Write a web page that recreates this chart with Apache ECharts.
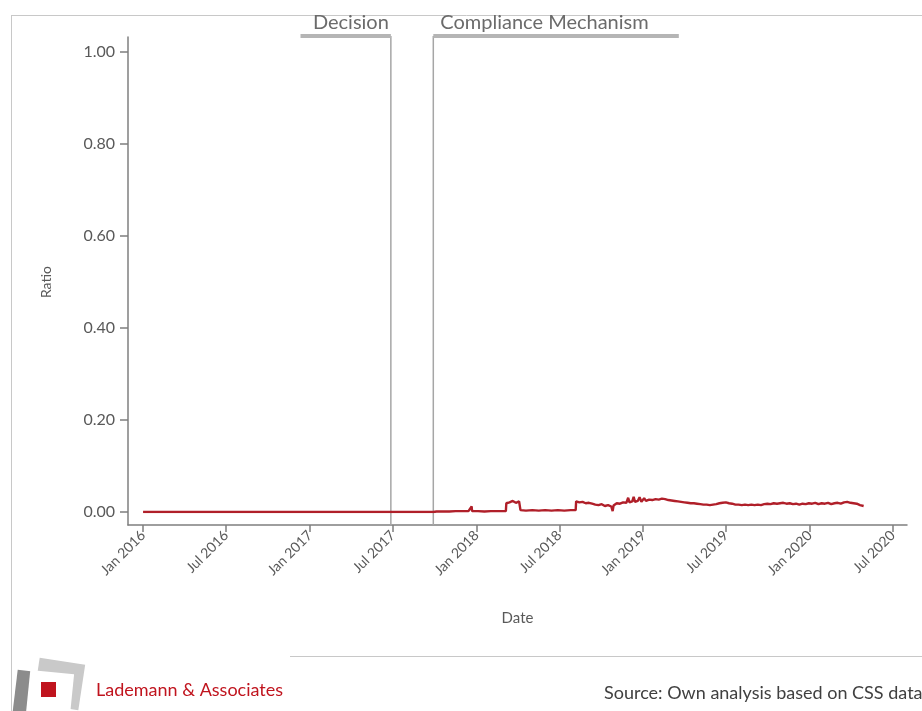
<!DOCTYPE html>
<html>
<head>
<meta charset="utf-8">
<script src="https://cdn.jsdelivr.net/npm/echarts@6/dist/echarts.min.js"></script>
<style>
html,body{margin:0;padding:0;background:#fff;}
#chart{width:922px;height:711px;}
</style>
</head>
<body>
<div id="chart"></div>
<script>
const ratioByDate = [
['2016-01-01',0.000],['2017-09-28',0.000],['2017-10-05',0.001],['2017-10-19',0.001],['2017-11-02',0.001],
['2017-11-16',0.002],['2017-11-30',0.002],['2017-12-14',0.002],['2017-12-21',0.012],['2017-12-22',0.002],
['2018-01-04',0.002],['2018-01-18',0.001],['2018-02-01',0.002],['2018-02-15',0.002],['2018-03-01',0.002],
['2018-03-06',0.002],['2018-03-07',0.019],['2018-03-10',0.022],['2018-03-14',0.021],['2018-03-17',0.024],
['2018-03-21',0.024],['2018-03-24',0.020],['2018-03-28',0.020],['2018-03-31',0.023],['2018-04-04',0.023],
['2018-04-06',0.021],['2018-04-07',0.004],['2018-04-19',0.003],['2018-05-03',0.004],['2018-05-17',0.003],
['2018-05-31',0.004],['2018-06-14',0.003],['2018-06-28',0.004],['2018-07-12',0.003],['2018-07-26',0.004],
['2018-08-06',0.004],['2018-08-07',0.023],['2018-08-10',0.020],['2018-08-14',0.021],['2018-08-17',0.023],
['2018-08-21',0.022],['2018-08-24',0.019],['2018-08-28',0.019],['2018-08-31',0.021],['2018-09-04',0.020],
['2018-09-07',0.017],['2018-09-11',0.018],['2018-09-14',0.016],['2018-09-18',0.016],['2018-09-21',0.018],
['2018-09-25',0.015],['2018-09-28',0.014],['2018-10-02',0.017],['2018-10-05',0.015],['2018-10-09',0.013],
['2018-10-12',0.016],['2018-10-16',0.015],['2018-10-19',0.011],['2018-10-23',0.012],['2018-10-26',0.002],
['2018-10-28',0.014],['2018-10-31',0.017],['2018-11-04',0.019],['2018-11-07',0.016],['2018-11-11',0.018],
['2018-11-14',0.020],['2018-11-18',0.021],['2018-11-21',0.018],['2018-11-25',0.020],['2018-11-29',0.031],
['2018-12-02',0.021],['2018-12-05',0.019],['2018-12-08',0.023],['2018-12-11',0.033],['2018-12-14',0.022],
['2018-12-17',0.020],['2018-12-20',0.024],['2018-12-24',0.032],['2018-12-28',0.022],['2018-12-31',0.025],
['2019-01-03',0.030],['2019-01-07',0.024],['2019-01-10',0.028],['2019-01-14',0.027],['2019-01-17',0.025],
['2019-01-21',0.026],['2019-01-24',0.029],['2019-01-28',0.028],['2019-01-31',0.026],['2019-02-04',0.027],
['2019-02-07',0.029],['2019-02-11',0.029],['2019-02-14',0.027],['2019-02-18',0.028],['2019-02-21',0.026],
['2019-02-25',0.026],['2019-02-28',0.024],['2019-03-04',0.025],['2019-03-07',0.023],['2019-03-11',0.024],
['2019-03-14',0.022],['2019-03-18',0.023],['2019-03-21',0.021],['2019-03-25',0.022],['2019-03-28',0.020],
['2019-04-01',0.021],['2019-04-04',0.019],['2019-04-08',0.020],['2019-04-11',0.018],['2019-04-15',0.019],
['2019-04-18',0.017],['2019-04-22',0.019],['2019-04-25',0.017],['2019-04-29',0.018],['2019-05-02',0.016],
['2019-05-06',0.017],['2019-05-09',0.015],['2019-05-13',0.016],['2019-05-16',0.014],['2019-05-20',0.016],
['2019-05-23',0.014],['2019-05-27',0.015],['2019-05-30',0.017],['2019-06-03',0.016],['2019-06-06',0.018],
['2019-06-10',0.017],['2019-06-13',0.019],['2019-06-17',0.019],['2019-06-20',0.021],['2019-06-24',0.020],
['2019-06-27',0.022],['2019-07-01',0.021],['2019-07-04',0.019],['2019-07-08',0.019],['2019-07-11',0.017],
['2019-07-15',0.018],['2019-07-18',0.016],['2019-07-22',0.016],['2019-07-25',0.014],['2019-07-29',0.016],
['2019-08-01',0.015],['2019-08-05',0.015],['2019-08-08',0.017],['2019-08-12',0.016],['2019-08-15',0.014],
['2019-08-19',0.015],['2019-08-22',0.017],['2019-08-26',0.016],['2019-08-29',0.014],['2019-09-02',0.015],
['2019-09-05',0.017],['2019-09-09',0.016],['2019-09-12',0.014],['2019-09-16',0.015],['2019-09-19',0.017],
['2019-09-23',0.017],['2019-09-26',0.015],['2019-09-30',0.018],['2019-10-03',0.016],['2019-10-07',0.017],
['2019-10-10',0.019],['2019-10-14',0.019],['2019-10-17',0.017],['2019-10-21',0.018],['2019-10-24',0.020],
['2019-10-28',0.019],['2019-10-31',0.017],['2019-11-04',0.020],['2019-11-07',0.018],['2019-11-11',0.018],
['2019-11-14',0.020],['2019-11-18',0.019],['2019-11-21',0.016],['2019-11-25',0.017],['2019-11-28',0.019],
['2019-12-02',0.018],['2019-12-05',0.016],['2019-12-09',0.016],['2019-12-12',0.018],['2019-12-16',0.018],
['2019-12-19',0.015],['2019-12-23',0.017],['2019-12-26',0.019],['2019-12-30',0.019],['2020-01-02',0.016],
['2020-01-06',0.018],['2020-01-09',0.020],['2020-01-13',0.020],['2020-01-16',0.017],['2020-01-20',0.017],
['2020-01-23',0.020],['2020-01-27',0.019],['2020-01-30',0.016],['2020-02-03',0.018],['2020-02-06',0.021],
['2020-02-10',0.020],['2020-02-13',0.017],['2020-02-17',0.017],['2020-02-20',0.020],['2020-02-24',0.019],
['2020-02-27',0.016],['2020-03-02',0.020],['2020-03-05',0.018],['2020-03-09',0.018],['2020-03-12',0.021],
['2020-03-16',0.021],['2020-03-19',0.019],['2020-03-23',0.022],['2020-03-26',0.020],['2020-03-30',0.020],
['2020-04-02',0.018],['2020-04-06',0.019],['2020-04-09',0.017],['2020-04-13',0.018],['2020-04-16',0.015],
['2020-04-20',0.015],['2020-04-24',0.016],['2020-04-28',0.013]
];
const yTicks = [0, 0.2, 0.4, 0.6, 0.8, 1.0];
const monthNames = ['Jan','Feb','Mar','Apr','May','Jun','Jul','Aug','Sep','Oct','Nov','Dec'];
const events = [
  {name:'Decision', date:'2017-06-27', barFrom:'2016-12-11', barTo:'2017-06-27', align:'right'},
  {name:'Compliance Mechanism', date:'2017-09-28', barFrom:'2017-09-28', barTo:'2019-03-20', align:'left'}
];
const axisMin = '2015-11-29';
const axisMax = '2020-08-01';

function ts(s){ const p=s.split('-').map(Number); return new Date(p[0],p[1]-1,p[2]).getTime(); }

const chart = echarts.init(document.getElementById('chart'), null, {renderer:'canvas'});
const FONT = 'Lato, "Open Sans", sans-serif';
const axisColor = '#7f7f7f';
const textColor = '#595959';

const option = {
  backgroundColor:'#fff',
  animation:false,
  grid:[
    {left:128, right:15, top:52, bottom:199},
    {left:128, right:15, top:37, bottom:186}
  ],
  xAxis:[
    {type:'time', gridIndex:0, min:ts(axisMin), max:ts(axisMax), show:false},
    {type:'time', gridIndex:1, min:ts(axisMin), max:ts(axisMax),
      splitNumber:9, minInterval:180*86400000, maxInterval:186*86400000,
      name:'Date', nameLocation:'middle', nameGap:86,
      nameTextStyle:{fontFamily:FONT, fontSize:15, color:textColor},
      axisLine:{show:true, onZero:false, lineStyle:{color:axisColor, width:1.5}},
      axisTick:{show:true, length:7, lineStyle:{color:axisColor, width:1.5}},
      minorTick:{show:false},
      splitLine:{show:false},
      axisLabel:{rotate:45, margin:8, fontFamily:FONT, fontSize:14, color:textColor,
        formatter:function(v){ const d=new Date(v); return monthNames[d.getMonth()]+' '+d.getFullYear(); }}
    }
  ],
  yAxis:[
    {type:'value', gridIndex:0, min:yTicks[0], max:yTicks[yTicks.length-1], interval:0.2,
      name:'Ratio', nameLocation:'middle', nameGap:75,
      nameTextStyle:{fontFamily:FONT, fontSize:14, color:textColor},
      axisLine:{show:false},
      axisTick:{show:true, length:8, lineStyle:{color:axisColor, width:1.5}},
      splitLine:{show:false},
      axisLabel:{margin:13, fontFamily:FONT, fontSize:16, color:textColor,
        formatter:function(v){ return v.toFixed(2); }}
    },
    {type:'value', gridIndex:1, min:0, max:1,
      axisLine:{show:true, lineStyle:{color:axisColor, width:1.5}},
      axisTick:{show:false}, axisLabel:{show:false}, splitLine:{show:false}
    }
  ],
  series:[
    {type:'line', xAxisIndex:0, yAxisIndex:0, showSymbol:false, symbol:'none',
      data: ratioByDate.map(p=>[ts(p[0]), p[1]]),
      lineStyle:{color:'#b01f29', width:2.4}, itemStyle:{color:'#b01f29'}, z:5}
  ]
};
chart.setOption(option);

// annotations positioned with the axis scale
const gfx = [];
const yBar = 36, yAxisLine = 525;
events.forEach(ev=>{
  const x = chart.convertToPixel({xAxisIndex:1}, ts(ev.date));
  const x1 = chart.convertToPixel({xAxisIndex:1}, ts(ev.barFrom));
  const x2 = chart.convertToPixel({xAxisIndex:1}, ts(ev.barTo));
  gfx.push({type:'line', shape:{x1:x, y1:yBar, x2:x, y2:yAxisLine}, style:{stroke:'#a6a6a6', lineWidth:1.5}, z:3});
  gfx.push({type:'line', shape:{x1:x1, y1:yBar, x2:x2, y2:yBar}, style:{stroke:'#b5b5b5', lineWidth:4}, z:3});
  gfx.push({type:'text', x: ev.align==='right' ? x-2 : x+7, y:23,
    style:{text:ev.name, fontFamily:FONT, fontSize:20, fill:'#6b6b6b', align:ev.align, verticalAlign:'middle'}, z:4});
});
// frame lines
gfx.push({type:'line', shape:{x1:11, y1:15.5, x2:922, y2:15.5}, style:{stroke:'#c8c8c8', lineWidth:1}});
gfx.push({type:'line', shape:{x1:11.5, y1:15, x2:11.5, y2:711}, style:{stroke:'#c8c8c8', lineWidth:1}});
gfx.push({type:'line', shape:{x1:290, y1:656.5, x2:922, y2:656.5}, style:{stroke:'#c8c8c8', lineWidth:1}});
// logo
gfx.push({type:'rect', shape:{x:-12, y:-22, width:24, height:44}, x:27, y:693, rotation:-0.12, style:{fill:'#8c8c8c'}});
gfx.push({type:'rect', shape:{x:-23, y:-23, width:46, height:46}, x:59, y:684, rotation:-0.15, style:{fill:'#c9c9c9'}});
gfx.push({type:'rect', shape:{x:-22, y:-22, width:44, height:44}, x:50, y:694, rotation:-0.1, style:{fill:'#ffffff'}});
gfx.push({type:'rect', shape:{x:-7.5, y:-7.5, width:15, height:15}, x:48.5, y:689.5, style:{fill:'#c0141e'}});
gfx.push({type:'text', x:96, y:690, style:{text:'Lademann & Associates', fontFamily:FONT, fontSize:18, fill:'#c0141e', verticalAlign:'middle'}});
gfx.push({type:'text', x:604, y:693, style:{text:'Source: Own analysis based on CSS data', fontFamily:FONT, fontSize:18, fill:'#404040', verticalAlign:'middle'}});
chart.setOption({graphic: gfx});
</script>
</body>
</html>
